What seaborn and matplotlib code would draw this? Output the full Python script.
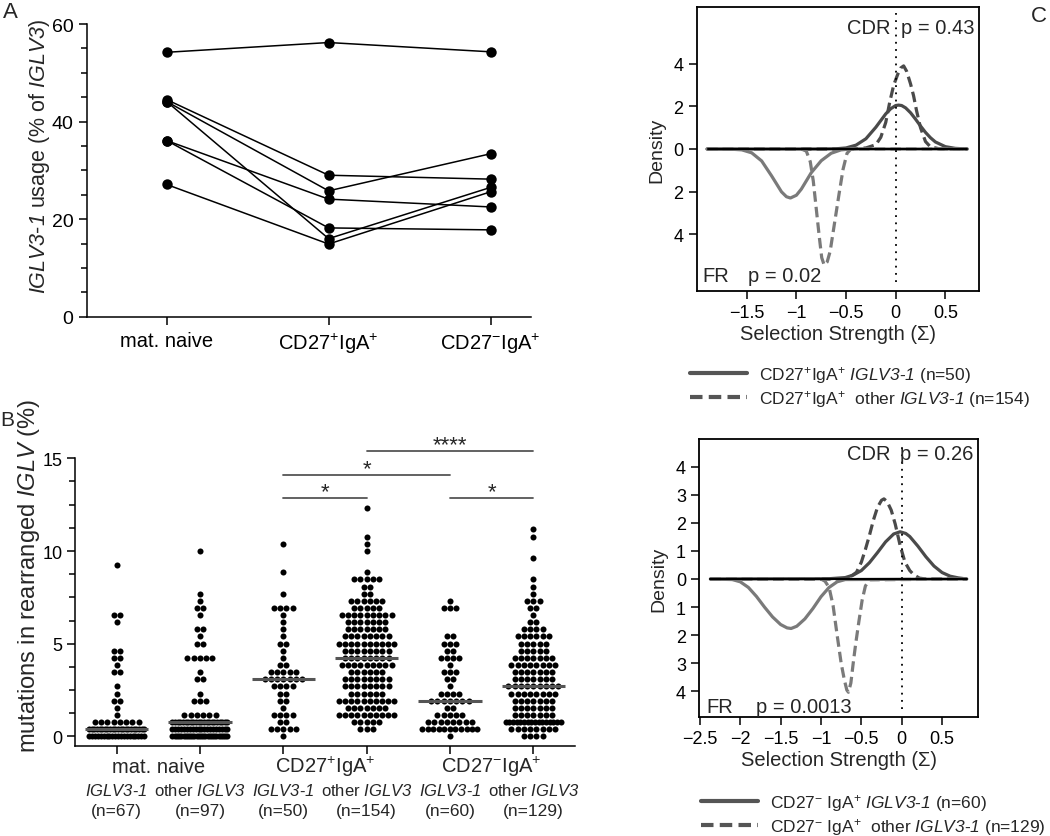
import numpy as np
import pandas as pd
import matplotlib
matplotlib.use('Agg')
import matplotlib.pyplot as plt
from matplotlib.lines import Line2D
from matplotlib.ticker import MultipleLocator, FuncFormatter
import seaborn as sns

sns.set_style('ticks')
plt.rcParams['font.family'] = ['Liberation Sans', 'DejaVu Sans']
plt.rcParams['mathtext.fontset'] = 'custom'
plt.rcParams['mathtext.rm'] = 'Liberation Sans'
plt.rcParams['mathtext.it'] = 'Liberation Sans:italic'
# \mathsf is used for the italic gene names so digits are slanted too
plt.rcParams['mathtext.sf'] = 'Liberation Sans:italic'
plt.rcParams['mathtext.bf'] = 'Liberation Sans:bold'
plt.rcParams['mathtext.default'] = 'regular'
plt.rcParams['axes.linewidth'] = 1.1
plt.rcParams['axes.edgecolor'] = 'black'
plt.rcParams['xtick.color'] = 'black'
plt.rcParams['ytick.color'] = 'black'

# ---- panel A: IGLV3-1 usage per donor (% of IGLV3)
a_labels = ['mat. naive', 'CD27$^{+}$IgA$^{+}$', 'CD27$^{-}$IgA$^{+}$']
a_naive = [54.2, 44.5, 44.1, 36.1, 44.1, 36.1, 27.1]
a_cd27pos = [56.2, 29.0, 25.8, 24.1, 16.0, 18.2, 14.9]
a_cd27neg = [54.3, 28.2, 33.4, 22.5, 26.5, 17.8, 25.6]

# ---- panel B: number of sequences per mutation count (index = mutations)
MUT_STEP = 0.385  # % per mutation in IGLV
b_naive_31 = [20, 22, 8, 1, 1, 2, 1, 1, 0, 2, 1, 2, 2, 0, 0, 0, 1, 2, 0, 0, 0, 0, 0, 0, 1]
b_naive_oth = [26, 20, 22, 6, 0, 3, 1, 0, 2, 1, 0, 5, 0, 2, 1, 2, 0, 1, 2, 1, 1, 0, 0, 0, 0, 0, 1]
b_pos_31 = [1, 5, 2, 4, 1, 2, 2, 4, 7, 5, 2, 1, 1, 2, 1, 1, 1, 1, 4, 0, 1, 0, 0, 1, 0, 0, 0, 1]
b_pos_oth = [0, 3, 5, 10, 7, 10, 6, 8, 8, 6, 9, 8, 8, 10, 8, 7, 7, 9, 5, 6, 2, 2, 5, 1, 0, 0, 1, 1, 1, 0, 0, 0, 1]
b_neg_31 = [1, 11, 8, 5, 2, 7, 4, 1, 2, 3, 1, 4, 2, 3, 2, 0, 0, 0, 3, 1]
b_neg_oth = [4, 8, 16, 7, 7, 7, 8, 9, 7, 7, 8, 7, 5, 5, 6, 4, 2, 1, 2, 3, 1, 1, 1, 0, 0, 1, 0, 0, 1, 1]
b_gene = ['$\\mathsf{IGLV3}$-$\\mathsf{1}$', 'other $\\mathsf{IGLV3}$'] * 3
b_n = ['(n=67)', '(n=97)', '(n=50)', '(n=154)', '(n=60)', '(n=129)']
b_subsets = ['mat. naive', 'CD27$^{+}$IgA$^{+}$', 'CD27$^{-}$IgA$^{+}$']
b_pairs = [(2, 3), (2, 4), (3, 5), (4, 5)]
b_pair_y = [12.86, 14.1, 15.41, 12.86]
b_pair_txt = ['*', '*', '****', '*']

# ---- panel C: selection strength densities (CDR up, FR mirrored down)
c1_cdr_x = [-1.9, -0.8, -0.6, -0.5, -0.4, -0.3, -0.2, -0.1, -0.05, 0.0, 0.03, 0.06, 0.1, 0.15, 0.2, 0.25, 0.3, 0.35, 0.4, 0.5, 0.6, 0.72]
c1_cdr_y = [0, 0, 0.01, 0.05, 0.18, 0.48, 1.02, 1.65, 1.89, 2.04, 2.06, 2.04, 1.93, 1.70, 1.40, 1.08, 0.78, 0.53, 0.33, 0.11, 0.03, 0]
c1_cdr_oth_x = [-1.9, -0.45, -0.3, -0.2, -0.15, -0.1, -0.06, -0.02, 0.02, 0.05, 0.08, 0.11, 0.15, 0.18, 0.21, 0.25, 0.3, 0.35, 0.45, 0.72]
c1_cdr_oth_y = [0, 0, 0.05, 0.2, 0.55, 1.25, 2.2, 3.0, 3.5, 3.8, 3.9, 3.65, 3.05, 2.5, 1.8, 1.0, 0.35, 0.1, 0, 0]
c1_fr_x = [-1.9, -1.65, -1.55, -1.45, -1.35, -1.25, -1.15, -1.1, -1.06, -1.0, -0.95, -0.85, -0.75, -0.65, -0.55, -0.45, 0.72]
c1_fr_y = [0, -0.01, -0.04, -0.18, -0.56, -1.26, -2.01, -2.24, -2.3, -2.17, -1.88, -1.11, -0.55, -0.2, -0.04, 0, 0]
c1_fr_oth_x = [-1.9, -0.95, -0.9, -0.86, -0.83, -0.8, -0.77, -0.745, -0.72, -0.69, -0.66, -0.63, -0.6, -0.57, -0.53, -0.49, -0.45, 0.72]
c1_fr_oth_y = [0, 0, -0.1, -0.6, -1.5, -2.8, -4.1, -5.1, -5.45, -5.3, -4.8, -3.9, -3.0, -2.1, -0.95, -0.2, 0, 0]

c2_cdr_x = [-2.37, -0.9, -0.7, -0.6, -0.5, -0.4, -0.3, -0.2, -0.1, -0.02, 0.05, 0.1, 0.2, 0.3, 0.4, 0.5, 0.6, 0.7, 0.805]
c2_cdr_y = [0, 0.01, 0.05, 0.14, 0.30, 0.58, 0.94, 1.32, 1.60, 1.68, 1.62, 1.51, 1.17, 0.79, 0.46, 0.23, 0.10, 0.04, 0]
c2_cdr_oth_x = [-2.37, -0.75, -0.65, -0.56, -0.5, -0.45, -0.4, -0.35, -0.3, -0.25, -0.22, -0.18, -0.13, -0.08, -0.02, 0.04, 0.1, 0.15, 0.22, 0.3, 0.805]
c2_cdr_oth_y = [0, 0, 0.05, 0.24, 0.6, 1.05, 1.55, 2.1, 2.55, 2.8, 2.85, 2.75, 2.45, 1.95, 1.2, 0.6, 0.3, 0.15, 0.03, 0, 0]
c2_fr_x = [-2.37, -2.1, -2.0, -1.9, -1.8, -1.7, -1.6, -1.5, -1.42, -1.37, -1.3, -1.2, -1.1, -1.0, -0.9, -0.8, -0.7, 0.805]
c2_fr_y = [0, -0.02, -0.1, -0.3, -0.62, -1.0, -1.35, -1.62, -1.74, -1.76, -1.68, -1.42, -1.05, -0.63, -0.3, -0.1, -0.02, 0]
c2_fr_oth_x = [-2.37, -1.0, -0.95, -0.9, -0.85, -0.8, -0.75, -0.71, -0.68, -0.66, -0.63, -0.6, -0.57, -0.53, -0.49, -0.45, -0.4, 0.805]
c2_fr_oth_y = [0, 0, -0.08, -0.3, -0.95, -2.0, -3.0, -3.6, -3.95, -4.03, -3.7, -2.97, -2.3, -1.5, -0.75, -0.25, -0.03, 0]

c1_legend = ['CD27$^{+}$IgA$^{+}$ $\\mathsf{IGLV3}$-$\\mathsf{1}$ (n=50)',
             'CD27$^{+}$IgA$^{+}$  other $\\mathsf{IGLV3}$-$\\mathsf{1}$ (n=154)']
c2_legend = ['CD27$^{-}$ IgA$^{+}$ $\\mathsf{IGLV3}$-$\\mathsf{1}$ (n=60)',
             'CD27$^{-}$ IgA$^{+}$  other $\\mathsf{IGLV3}$-$\\mathsf{1}$ (n=129)']

DARK = '#4a4a4a'
LIGHT = '#7a7a7a'
W, H = 1050, 837

fig = plt.figure(figsize=(10.5, 8.37), dpi=100)


def px_axes(left, top, right, bottom):
    return fig.add_axes([left / W, 1 - bottom / H, (right - left) / W, (bottom - top) / H])


# ================= A =================
axA = px_axes(86.7, 25, 531, 317.7)
dfA = pd.DataFrame({
    'donor': list(range(7)) * 3,
    'pos': [0] * 7 + [1] * 7 + [2] * 7,
    'usage': a_naive + a_cd27pos + a_cd27neg,
})
sns.lineplot(data=dfA, x='pos', y='usage', units='donor', estimator=None,
             color='black', lw=1.1, marker='o', markersize=7.5, markeredgewidth=0, ax=axA)
axA.set_xlim(-0.494, 2.25)
axA.set_ylim(0, 60)
axA.set_xticks([0, 1, 2])
axA.set_xticklabels(a_labels, fontsize=14.5)
axA.yaxis.set_major_locator(MultipleLocator(20))
axA.yaxis.set_minor_locator(MultipleLocator(5))
axA.tick_params(axis='y', labelsize=14, length=6, width=1.1)
axA.tick_params(axis='y', which='minor', length=4, width=1.1)
axA.tick_params(axis='x', length=6, width=1.1, pad=4)
axA.set_xlabel('')
axA.set_ylabel('$\\mathsf{IGLV3}$-$\\mathsf{1}$ usage (% of $\\mathsf{IGLV3}$)', fontsize=15.5)
# ylabel coordinate = right (descender) edge of the rotated text
axA.yaxis.set_label_coords(-0.079, 0.551)
sns.despine(ax=axA)

# ================= B =================
axB = px_axes(75, 459.3, 575, 746.7)
b_all = [b_naive_31, b_naive_oth, b_pos_31, b_pos_oth, b_neg_31, b_neg_oth]
rows = []
for gi, counts in enumerate(b_all):
    for k, c in enumerate(counts):
        if c == 0:
            continue
        sp = 0.075 if c == 1 else min(0.075, 0.66 / (c - 1))
        for j in range(c):
            rows.append((gi, gi + (j - (c - 1) / 2) * sp, k * MUT_STEP))
dfB = pd.DataFrame(rows, columns=['group', 'x', 'mut'])
sns.scatterplot(data=dfB, x='x', y='mut', color='black', s=19, linewidth=0, ax=axB, zorder=2)
med = dfB.groupby('group')['mut'].median()
for gi, m in med.items():
    axB.hlines(m, gi - 0.38, gi + 0.38, color='#555555', lw=2.2, zorder=3)
axB.set_xlim(-0.5, 5.5)
axB.set_ylim(-0.5, 15)
axB.spines['left'].set_bounds(-0.5, 15)
axB.set_xticks(range(6))
axB.set_xticklabels([])
axB.yaxis.set_major_locator(MultipleLocator(5))
axB.yaxis.set_minor_locator(MultipleLocator(1.25))
axB.tick_params(axis='y', labelsize=13, length=6, width=1.1, pad=3)
axB.tick_params(axis='y', which='minor', length=4, width=1.1)
axB.tick_params(axis='x', length=6, width=1.1)
axB.set_xlabel('')
axB.set_ylabel('mutations in rearranged $\\mathsf{IGLV}$ (%)', fontsize=17)
axB.yaxis.set_label_coords(-0.066, 0.594)
sns.despine(ax=axB)

tr = axB.get_xaxis_transform()
for si, lab in enumerate(b_subsets):
    axB.text(2 * si + 0.5, -0.072, lab, transform=tr, ha='center', va='center', fontsize=14.5)
for gi in range(6):
    axB.text(gi, -0.153, b_gene[gi], transform=tr, ha='center', va='center', fontsize=12)
    axB.text(gi, -0.226, b_n[gi], transform=tr, ha='center', va='center', fontsize=12.5)

for (g0, g1), yy, txt in zip(b_pairs, b_pair_y, b_pair_txt):
    axB.plot([g0, g1], [yy, yy], color='#555555', lw=1.3, clip_on=False)
    axB.text((g0 + g1) / 2, yy + 0.05, txt, ha='center', va='baseline', fontsize=16, clip_on=False)


# ================= C =================
def density_panel(ax, curves, xlim, ylim, xticks, yticks, zero_span, texts):
    for x, y, col, dashed in curves:
        ls = (0, (3.3, 1.6)) if dashed else '-'
        sns.lineplot(x=x, y=y, color=col, lw=2.3, linestyle=ls, estimator=None, sort=False, ax=ax)
    ax.plot(zero_span, [0, 0], color='black', lw=1.5, zorder=4)
    ax.axvline(0, ymin=0.03, ymax=0.98, color='black', ls=(0, (1, 3)), lw=1.3)
    ax.set_xlim(*xlim)
    ax.set_ylim(*ylim)
    ax.set_xticks(xticks)
    ax.set_yticks(yticks)
    ax.xaxis.set_major_formatter(FuncFormatter(lambda v, p: f'{v:g}'.replace('-', '\u2212')))
    ax.yaxis.set_major_formatter(FuncFormatter(lambda v, p: f'{abs(v):g}'))
    ax.tick_params(labelsize=13, length=6, width=1.1, direction='out')
    for s in ax.spines.values():
        s.set_visible(True)
        s.set_linewidth(1.3)
        s.set_color('black')
    ax.set_xlabel('Selection Strength (\u03a3)', fontsize=14.5, labelpad=2)
    ax.set_ylabel('Density', fontsize=14, labelpad=6)
    for tx, ty, t, ha in texts:
        ax.text(tx, ty, t, ha=ha, va='center', fontsize=14.5)
    return [Line2D([], [], color='#555555', lw=3),
            Line2D([], [], color='#555555', lw=3, ls=(0, (3, 1.5)))]


axC1 = px_axes(696.7, 8.3, 979.3, 291.7)
h1 = density_panel(
    axC1,
    [(c1_cdr_x, c1_cdr_y, DARK, False), (c1_cdr_oth_x, c1_cdr_oth_y, DARK, True),
     (c1_fr_x, c1_fr_y, LIGHT, False), (c1_fr_oth_x, c1_fr_oth_y, LIGHT, True)],
    (-2.004, 0.842), (-6.65, 6.65), [-1.5, -1, -0.5, 0, 0.5], [-4, -2, 0, 2, 4],
    [-1.89, 0.715],
    [(-0.057, 5.71, 'CDR', 'right'), (0.05, 5.71, 'p = 0.43', 'left'),
     (-1.95, -5.95, 'FR', 'left'), (-1.485, -5.95, 'p = 0.02', 'left')])
fig.legend(h1, c1_legend, loc='upper left', bbox_to_anchor=(690 / W, 1 - 365 / H),
           frameon=False, fontsize=12.5, handlelength=3.3, handletextpad=0.7,
           labelspacing=0.15, borderpad=0, borderaxespad=0)

axC2 = px_axes(699.3, 440, 978.3, 718.3)
h2 = density_panel(
    axC2,
    [(c2_cdr_x, c2_cdr_y, DARK, False), (c2_cdr_oth_x, c2_cdr_oth_y, DARK, True),
     (c2_fr_x, c2_fr_y, LIGHT, False), (c2_fr_oth_x, c2_fr_oth_y, LIGHT, True)],
    (-2.508, 0.949), (-4.92, 4.98), [-2.5, -2, -1.5, -1, -0.5, 0, 0.5], [-4, -3, -2, -1, 0, 1, 2, 3, 4],
    [-2.37, 0.805],
    [(-0.145, 4.45, 'CDR', 'right'), (-0.02, 4.45, 'p = 0.26', 'left'),
     (-2.42, -4.53, 'FR', 'left'), (-1.8, -4.53, 'p = 0.0013', 'left')])
fig.legend(h2, c2_legend, loc='upper left', bbox_to_anchor=(701 / W, 1 - 793 / H),
           frameon=False, fontsize=12.5, handlelength=3.3, handletextpad=0.7,
           labelspacing=0.15, borderpad=0, borderaxespad=0)

# panel letters
fig.text(3 / W, 1 - 2 / H, 'A', fontsize=16, va='top', ha='left')
fig.text(0 / W, 1 - 411 / H, 'B', fontsize=15, va='top', ha='left')
fig.text(1047 / W, 1 - 6 / H, 'C', fontsize=16, va='top', ha='right')

fig.savefig('out.png', dpi=100)
